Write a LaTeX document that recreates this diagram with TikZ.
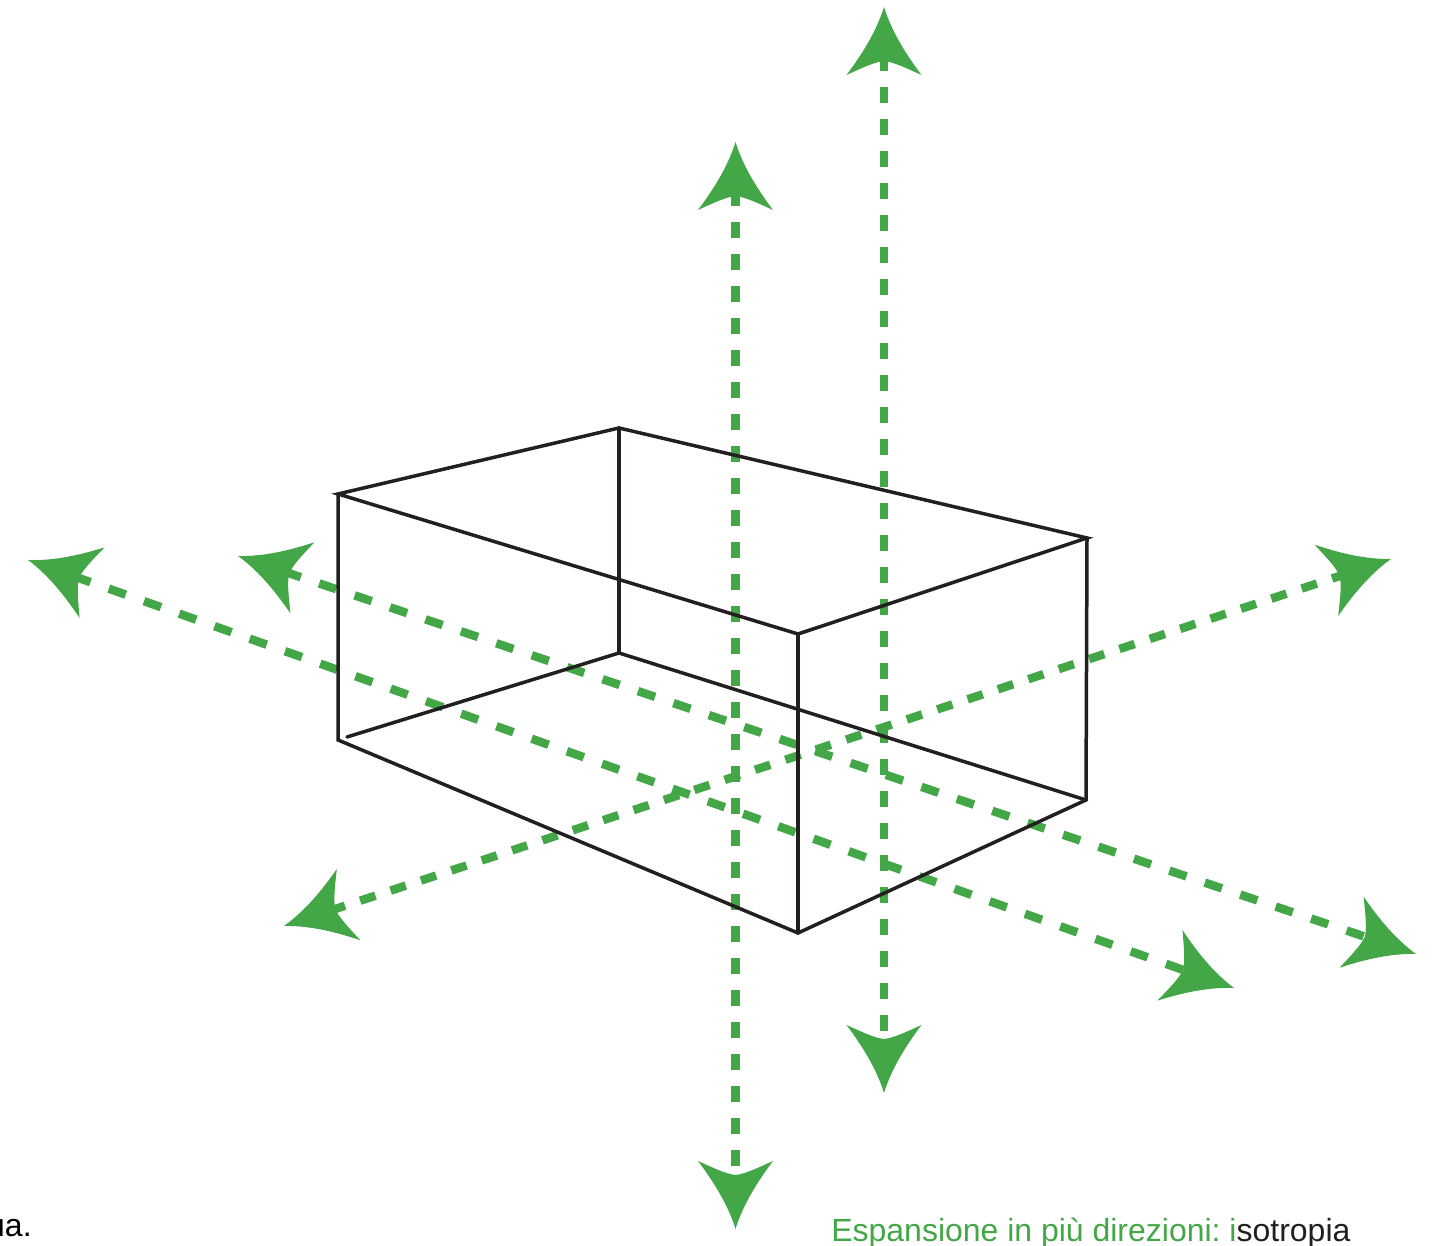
\documentclass[tikz,border=0pt]{standalone}
\usepackage{fontspec}
\setmainfont{Liberation Sans}
\frenchspacing
\definecolor{arrowgreen}{HTML}{43A748}
\definecolor{boxblack}{HTML}{231F20}
\tikzset{
	greenhead/.pic={
		\fill[arrowgreen] (0,0) .. controls (-26,8) and (-50,24) .. (-68,37.5)
			.. controls (-62,24) and (-55,10) .. (-54,0)
			.. controls (-55,-10) and (-62,-24) .. (-68,-37.5)
			.. controls (-50,-24) and (-26,-8) .. (0,0) -- cycle;
	}
}
\begin{document}
\begin{tikzpicture}[x=0.02cm,y=0.02cm]
\tikzstyle{upline}=[draw=arrowgreen,line width=0.17cm,dash pattern=on 0.32cm off 0.32cm,shorten >=27.5pt,shorten <=27.5pt];
\tikzstyle{slantline}=[draw=arrowgreen,line width=0.17cm,dash pattern=on 0.36cm off 0.388cm,shorten >=27.5pt,shorten <=27.5pt];
\tikzstyle{boxline}=[draw=boxblack,line width=0.07cm,line join=miter,line cap=round];
\tikzstyle{caption}=[inner sep=0,font=\fontsize{18.2pt}{21pt}\selectfont];
\useasboundingbox (0,0) rectangle (1437,1246);
% arrow ends
\coordinate (vatop) at (735.5,1104);
\coordinate (vabot) at (735.5,17);
\coordinate (vbtop) at (884,1239);
\coordinate (vbbot) at (884,153);
\coordinate (daleft) at (28,686);
\coordinate (daright) at (1234,258);
\coordinate (dbleft) at (238,690);
\coordinate (dbright) at (1416,292);
\coordinate (dcright) at (1391,687);
\coordinate (dcleft) at (284,320);
% box corners
\coordinate (backtop) at (619,818);
\coordinate (lefttop) at (338,752);
\coordinate (righttop) at (1087,708);
\coordinate (fronttop) at (798,612);
\coordinate (backbot) at (619,593);
\coordinate (leftbot) at (338,506);
\coordinate (rightbot) at (1086,446);
\coordinate (frontbot) at (798,313);
\coordinate (hiddenend) at (347,509);
% dashed axes
\draw[upline] (vatop) -- (vabot);
\draw[upline] (vbtop) -- (vbbot);
\draw[slantline] (daleft) -- (daright);
\draw[slantline] (dbleft) -- (dbright);
\draw[upline] (dcleft) -- (dcright);
\foreach \tip/\ang in {vatop/90,vabot/-90,vbtop/90,vbbot/-90,daleft/160.5,daright/-19.5,dbleft/161.3,dbright/-18.7,dcright/18.3,dcleft/198.3}
	\pic[rotate=\ang] at (\tip) {greenhead};
% box
\draw[boxline] (lefttop) -- (backtop) -- (righttop) -- (fronttop) -- cycle;
\draw[boxline] (lefttop) -- (leftbot) -- (frontbot) -- (rightbot) -- (righttop);
\draw[boxline] (fronttop) -- (frontbot);
\draw[boxline] (backtop) -- (backbot);
\draw[boxline] (hiddenend) -- (backbot) -- (rightbot);
% texts
\node[caption,anchor=base east] (cutnote) at (32,9) {ua.};
\node[caption,anchor=base west,text=arrowgreen] (isonote) at (831,4) {Espansione in più direzioni: i\textcolor{boxblack}{sotropia}};
\end{tikzpicture}
\end{document}
